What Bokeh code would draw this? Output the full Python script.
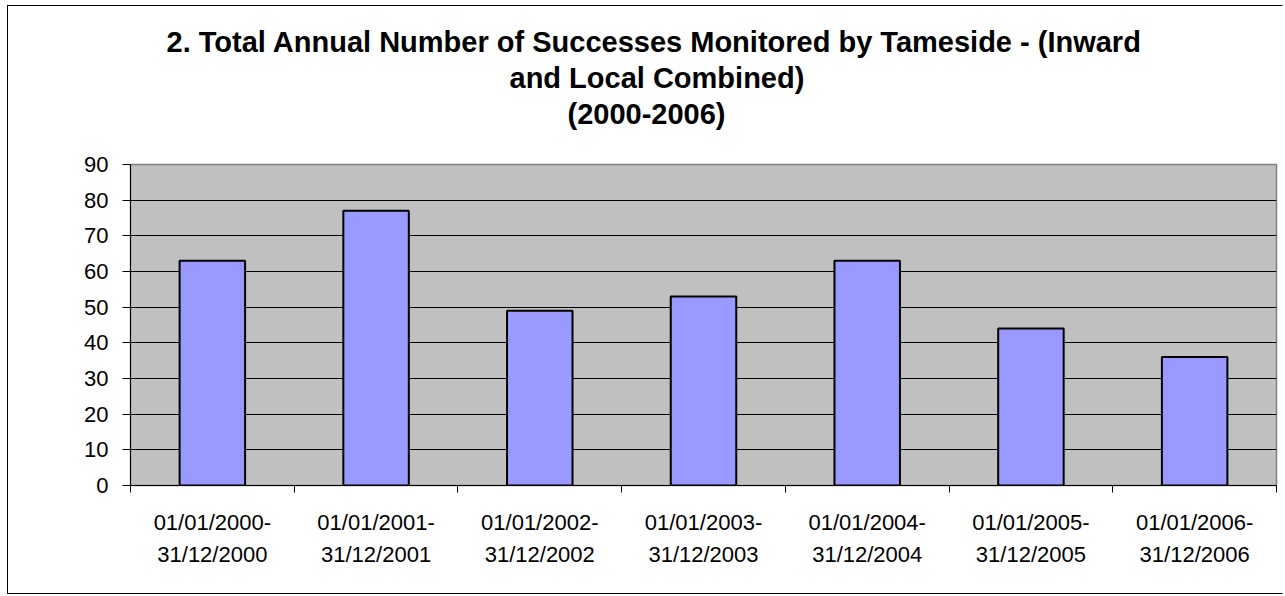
from bokeh.plotting import figure
from bokeh.models import Range1d, FixedTicker, LinearAxis, Title
from bokeh.embed import file_html
from bokeh.resources import INLINE

# ---- data ----
periods = [
    "01/01/2000-31/12/2000",
    "01/01/2001-31/12/2001",
    "01/01/2002-31/12/2002",
    "01/01/2003-31/12/2003",
    "01/01/2004-31/12/2004",
    "01/01/2005-31/12/2005",
    "01/01/2006-31/12/2006",
]
successes = [63, 77, 49, 53, 63, 44, 36]
y_ticks = [0, 10, 20, 30, 40, 50, 60, 70, 80, 90]
title_lines = [
    "2. Total Annual Number of Successes Monitored by Tameside - (Inward",
    "and Local Combined)",
    "(2000-2006)",
]

n = len(periods)
centers = [i + 0.5 for i in range(n)]
bounds = [float(i) for i in range(n + 1)]
label_top = [s[:11] for s in periods]
label_bottom = [s[11:] for s in periods]

FONT = "Liberation Sans"

p = figure(
    width=1276, height=589,
    output_backend="svg", toolbar_location=None,
    x_range=Range1d(0, n), y_range=Range1d(0, y_ticks[-1]),
    min_border_left=122, min_border_right=8, min_border_top=158, min_border_bottom=110,
    background_fill_color="#C0C0C0", border_fill_color="white",
)
p.styles = {
    "border-top": "1px solid black",
    "border-left": "1px solid black",
    "border-bottom": "1px solid black",
    "border-right": "1px solid white",
    "margin-left": "7px",
    "margin-top": "5px",
}
p.outline_line_color = "#808080"
p.outline_line_width = 1.5

# bars
p.vbar(x=centers, top=successes, width=0.4, bottom=0,
       fill_color="#9999FF", line_color="black", line_width=2)

# y axis
ya = p.yaxis[0]
ya.ticker = FixedTicker(ticks=y_ticks)
ya.axis_line_color = "#000000"
ya.axis_line_width = 1
ya.major_tick_line_color = "#000000"
ya.major_tick_out = 8
ya.major_tick_in = 0
ya.minor_tick_line_color = None
ya.major_label_text_font = FONT
ya.major_label_text_font_size = "22px"
ya.major_label_text_color = "black"
ya.major_label_standoff = 14

p.ygrid.ticker = FixedTicker(ticks=y_ticks)
p.ygrid.grid_line_color = "black"
p.ygrid.grid_line_width = 1
p.xgrid.grid_line_color = None

# x axis line 1
xa = p.xaxis[0]
xa.ticker = FixedTicker(ticks=centers, minor_ticks=bounds)
xa.major_label_overrides = {c: t for c, t in zip(centers, label_top)}
xa.axis_line_color = "#000000"
xa.major_tick_line_color = None
xa.major_tick_out = 0
xa.major_tick_in = 0
xa.minor_tick_line_color = "#000000"
xa.minor_tick_out = 7
xa.minor_tick_in = 0
xa.major_label_text_font = FONT
xa.major_label_text_font_size = "22px"
xa.major_label_text_color = "black"
xa.major_label_standoff = 17

# x axis line 2
xa2 = LinearAxis(
    ticker=FixedTicker(ticks=centers),
    major_label_overrides={c: t for c, t in zip(centers, label_bottom)},
    axis_line_color=None, major_tick_line_color=None, minor_tick_line_color=None,
    major_tick_out=0, major_tick_in=0, minor_tick_out=0, minor_tick_in=0,
    major_label_text_font=FONT, major_label_text_font_size="22px",
    major_label_text_color="black", major_label_standoff=4,
)
p.add_layout(xa2, "below")

# spacer between the title block and the plot area
p.add_layout(Title(text=" ", standoff=0, text_font=FONT, text_font_size="29px"), "above")

# title: three lines, nearest-to-frame first
offsets = [36, 379, 437]
for line, off in reversed(list(zip(title_lines, offsets))):
    p.add_layout(Title(
        text=line, align="left", offset=off, standoff=2,
        text_font=FONT, text_font_size="29px", text_font_style="bold",
        text_color="black",
    ), "above")

open("out.html", "w").write(file_html(p, INLINE))
